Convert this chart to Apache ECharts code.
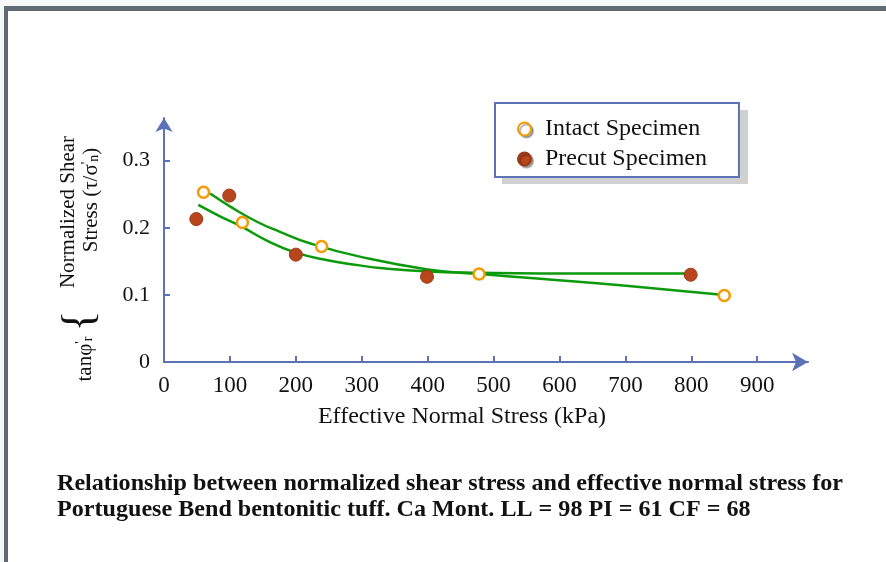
<!DOCTYPE html>
<html>
<head>
<meta charset="utf-8">
<script src="https://cdn.jsdelivr.net/npm/echarts@6/dist/echarts.min.js"></script>
<style>
html, body { margin: 0; padding: 0; background: #ffffff; }
#main { width: 886px; height: 562px; }
</style>
</head>
<body>
<div id="main"></div>
<script>
// tick labels
var xTicks = [0, 100, 200, 300, 400, 500, 600, 700, 800, 900];
var yTicks = [0, 0.1, 0.2, 0.3];

// measured specimens
var intactX = [60, 119, 239, 478, 850];
var intactY = [0.253, 0.208, 0.172, 0.131, 0.099];
var precutX = [49, 99, 200, 399, 799];
var precutY = [0.213, 0.248, 0.160, 0.127, 0.130];

// fitted curves
var intactFitX = [70, 100, 141, 176, 221, 297, 400, 480, 571, 697, 850];
var intactFitY = [0.251, 0.232, 0.209, 0.194, 0.177, 0.157, 0.138, 0.131, 0.124, 0.114, 0.100];
var precutFitX = [52, 85, 119, 156, 200, 252, 297, 328, 400, 480, 571, 800];
var precutFitY = [0.234, 0.217, 0.201, 0.181, 0.163, 0.151, 0.144, 0.140, 0.135, 0.133, 0.132, 0.132];

var caption1 = 'Relationship between normalized shear stress and effective normal stress for';
var caption2 = 'Portuguese Bend bentonitic tuff. Ca Mont. LL = 98 PI = 61 CF = 68';

var axisBlue = '#5b72b6';
var serif = '"Liberation Serif", "Times New Roman", serif';

function pairs(xs, ys) {
    return xs.map(function (x, i) { return [x, ys[i]]; });
}

// squeeze the bold caption to the width it has in the picture
var ctx = document.createElement('canvas').getContext('2d');
ctx.font = 'bold 24px "Liberation Serif"';
var capScale = 786 / ctx.measureText(caption1).width;

var myChart = echarts.init(document.getElementById('main'));

var option = {
    backgroundColor: '#ffffff',
    animation: false,
    grid: { left: 164, right: 78, top: 118, bottom: 200 },
    legend: {
        orient: 'vertical',
        left: 495,
        top: 103,
        z: 6,
        data: ['Intact Specimen', 'Precut Specimen'],
        backgroundColor: '#ffffff',
        borderColor: axisBlue,
        borderWidth: 2,
        padding: [14, 32, 6, 22],
        itemGap: 6,
        itemWidth: 13,
        itemHeight: 13,
        itemStyle: { shadowColor: 'rgba(0,0,0,0.3)', shadowOffsetX: 2, shadowOffsetY: 2, shadowBlur: 1 },
        formatter: function (name) { return '{g|}' + name; },
        textStyle: {
            fontFamily: serif, fontSize: 24, color: '#111', lineHeight: 24,
            rich: { g: { width: 9 } }
        }
    },
    xAxis: {
        type: 'value',
        min: 0,
        max: 977,
        axisLine: {
            show: true, onZero: false,
            symbol: ['none', 'arrow'], symbolSize: [14, 16],
            lineStyle: { color: axisBlue, width: 2 }
        },
        axisTick: { show: true, inside: true, length: 6, customValues: xTicks.slice(1), lineStyle: { color: axisBlue, width: 2 } },
        axisLabel: { customValues: xTicks, margin: 12, fontFamily: serif, fontSize: 23, color: '#111' },
        splitLine: { show: false }
    },
    yAxis: {
        type: 'value',
        min: 0,
        max: 0.3636,
        axisLine: {
            show: true, onZero: false,
            symbol: ['none', 'arrow'], symbolSize: [13, 14],
            lineStyle: { color: axisBlue, width: 2 }
        },
        axisTick: { show: true, inside: true, length: 6, customValues: yTicks.slice(1), lineStyle: { color: axisBlue, width: 2 } },
        axisLabel: {
            customValues: yTicks, margin: 14, fontFamily: serif, fontSize: 22, color: '#111',
            formatter: function (v) { return v === 0 ? '0' : v.toFixed(1); }
        },
        splitLine: { show: false }
    },
    series: [
        {
            name: 'Intact fit', type: 'line', data: pairs(intactFitX, intactFitY),
            smooth: 0.5, showSymbol: false, silent: true, z: 2,
            lineStyle: { color: '#0b9a0b', width: 2.5 }
        },
        {
            name: 'Precut fit', type: 'line', data: pairs(precutFitX, precutFitY),
            smooth: 0.5, showSymbol: false, silent: true, z: 2,
            lineStyle: { color: '#0b9a0b', width: 2.5 }
        },
        {
            name: 'Intact Specimen', type: 'scatter', data: pairs(intactX, intactY),
            symbol: 'circle', symbolSize: 11, z: 5,
            itemStyle: { color: '#ffffff', borderColor: '#f59a00', borderWidth: 2.5, opacity: 1 }
        },
        {
            name: 'Precut Specimen', type: 'scatter', data: pairs(precutX, precutY),
            symbol: 'circle', symbolSize: 13, z: 5,
            itemStyle: { color: '#b8461c', borderColor: '#9a3914', borderWidth: 1, opacity: 1 }
        }
    ],
    graphic: [
        // page frame
        { type: 'rect', shape: { x: 0, y: 0, width: 886, height: 6 }, style: { fill: '#f6f7f7' }, silent: true },
        { type: 'rect', shape: { x: 0, y: 0, width: 4, height: 562 }, style: { fill: '#f6f7f7' }, silent: true },
        { type: 'rect', shape: { x: 4, y: 6, width: 882, height: 5 }, style: { fill: '#5f6a72' }, silent: true },
        { type: 'rect', shape: { x: 4, y: 6, width: 4, height: 556 }, style: { fill: '#5f6a72' }, silent: true },
        // legend drop shadow
        { type: 'rect', z: 1, shape: { x: 502, y: 110, width: 246, height: 74 }, style: { fill: '#d0d0d0' }, silent: true },
        // x axis title
        {
            type: 'text', x: 462, y: 417,
            style: { text: 'Effective Normal Stress (kPa)', font: '24px ' + serif, fill: '#111', align: 'center', verticalAlign: 'middle' }
        },
        // y axis title, rotated
        {
            type: 'text', x: 68, y: 212, rotation: Math.PI / 2,
            style: { text: 'Normalized Shear', font: '21px ' + serif, fill: '#111', align: 'center', verticalAlign: 'middle' }
        },
        {
            type: 'text', x: 91, y: 200, rotation: Math.PI / 2,
            style: {
                text: 'Stress (τ/σ{sup|\'}{sub|n})', font: '21px ' + serif, fill: '#111', align: 'center', verticalAlign: 'middle',
                rich: {
                    sup: { fontFamily: serif, fontSize: 14, verticalAlign: 'top', fill: '#111' },
                    sub: { fontFamily: serif, fontSize: 14, verticalAlign: 'bottom', fill: '#111' }
                }
            }
        },
        {
            type: 'text', x: 80, y: 321, rotation: Math.PI / 2,
            style: { text: '{', font: '44px ' + serif, fill: '#111', align: 'center', verticalAlign: 'middle' }
        },
        {
            type: 'text', x: 85, y: 359, rotation: Math.PI / 2,
            style: {
                text: 'tanφ{sup|\'}{sub|r}', font: '21px ' + serif, fill: '#111', align: 'center', verticalAlign: 'middle',
                rich: {
                    sup: { fontFamily: serif, fontSize: 14, verticalAlign: 'top', fill: '#111' },
                    sub: { fontFamily: serif, fontSize: 14, verticalAlign: 'bottom', fill: '#111' }
                }
            }
        },
        // caption
        {
            type: 'text', x: 57, y: 484, scaleX: capScale,
            style: { text: caption1, font: 'bold 24px ' + serif, fill: '#111', align: 'left', verticalAlign: 'middle' }
        },
        {
            type: 'text', x: 57, y: 510, scaleX: capScale,
            style: { text: caption2, font: 'bold 24px ' + serif, fill: '#111', align: 'left', verticalAlign: 'middle' }
        }
    ]
};

option && myChart.setOption(option);
</script>
</body>
</html>
